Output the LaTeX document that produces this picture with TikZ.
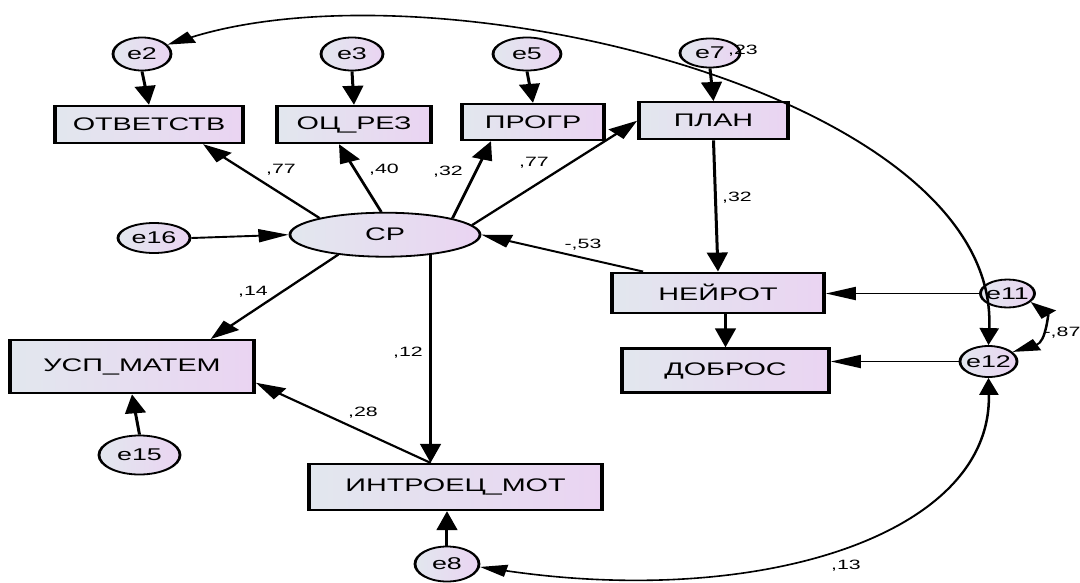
\documentclass[tikz,border=0pt]{standalone}
\usepackage{fontspec}
\setmainfont{Liberation Sans}
\usetikzlibrary{shapes.geometric,arrows.meta,calc}
\definecolor{lft}{RGB}{226,231,238}
\definecolor{rgt}{RGB}{234,212,242}
\newcommand\mynodefont{\fontsize{17}{20}\selectfont}
\newcommand\myboxfont{\fontsize{18.2}{21}\selectfont}
\newcommand\mylabfont{\fontsize{13.5}{16}\selectfont}
\tikzset{
  box/.style={rectangle, draw=black, line width=2.3pt, left color=lft, right color=rgt, inner sep=0pt, font=\myboxfont},
  err/.style={ellipse, draw=black, line width=1.8pt, left color=lft, right color=rgt, inner sep=0pt, font=\mynodefont},
  arr/.style={line width=1.9pt, -{Triangle[length=19pt,width=13pt]}},
  cov/.style={line width=1.6pt, {Triangle[length=17pt,width=12pt]}-{Triangle[length=17pt,width=12pt]}},
  lab/.style={font=\mylabfont, inner sep=0pt},
}
\begin{document}
\begin{tikzpicture}[x=1pt,y=-1pt]
\path[use as bounding box, fill=white] (0,0) rectangle (1080,582);
\begin{scope}[x=0.63291pt, transform canvas={xscale=1.58}]
% error terms
\node[err, minimum width=36.7pt, minimum height=33pt] (e2) at (142,54) {\makebox[0pt]{e2}};
\node[err, minimum width=39.2pt, minimum height=33pt] (e3) at (352,54) {\makebox[0pt]{e3}};
\node[err, minimum width=43pt, minimum height=33pt] (e5) at (527,54) {\makebox[0pt]{e5}};
\node[err, minimum width=38pt, minimum height=29pt] (e7) at (710,53) {\makebox[0pt]{e7}};
\node[err, minimum width=45.6pt, minimum height=30pt] (e16) at (154,238) {\makebox[0pt]{e16}};
\node[err, minimum width=34.2pt, minimum height=28pt] (e11) at (1007.5,293.5) {\makebox[0pt]{e11}};
\node[err, minimum width=36.1pt, minimum height=31pt] (e12) at (988.5,361.5) {\makebox[0pt]{e12}};
\node[err, minimum width=51.3pt, minimum height=39pt] (e15) at (139.5,455) {\makebox[0pt]{e15}};
\node[err, minimum width=40.5pt, minimum height=35pt] (e8) at (447,564) {\makebox[0pt]{e8}};
% latent
\node[err, minimum width=120.3pt, minimum height=44pt, font=\myboxfont] (cp) at (385,234.7) {СР};
% observed
\node[box, minimum width=119pt, minimum height=37pt] (otv) at (149,124.5) {ОТВЕТСТВ};
\node[box, minimum width=97.5pt, minimum height=37pt] (ozr) at (354,124.5) {ОЦ\_РЕЗ};
\node[box, minimum width=89.9pt, minimum height=36pt] (prog) at (533,122) {ПРОГР};
\node[box, minimum width=94.3pt, minimum height=37pt] (plan) at (713.5,120.7) {ПЛАН};
\node[box, minimum width=154.4pt, minimum height=53pt] (usp) at (132,366.7) {УСП\_МАТЕМ};
\node[box, minimum width=134.2pt, minimum height=40pt] (neu) at (718,292.7) {НЕЙРОТ};
\node[box, minimum width=131pt, minimum height=44pt] (dob) at (725.5,370.5) {ДОБРОС};
\node[box, minimum width=185.4pt, minimum height=46pt] (intr) at (455.5,487) {ИНТРОЕЦ\_МОТ};
% paths
\draw[arr] (e2.south) -- (otv.north);
\draw[arr] (e3.south) -- (ozr.north);
\draw[arr] (e5.south) -- (prog.north);
\draw[arr] (e7.south) -- (plan.north);
\draw[arr] (cp.158) -- ($(otv.south)+(54,0)$);
\draw[arr] (cp.96) -- ($(ozr.south)+(-15,0)$);
\draw[arr] (cp.21) -- ($(prog.south)+(-42,0)$);
\draw[arr] (cp.10) -- (plan.west);
\draw[arr] (e16.east) -- (cp.west);
\draw[arr] ($(neu.north)+(-75,0)$) -- (cp.east);
\draw[arr] (plan.south) -- (neu.north);
\draw[arr] (neu.south -| dob.north) -- (dob.north);
\draw[arr] (e11.west) -- (e11.west -| neu.east);
\draw[arr] (e12.west) -- (e12.west -| dob.east);
\draw[arr] (cp.-146) -- ($(usp.north)+(78.7,0)$);
\coordinate (jn) at (cp.-35 |- intr.north);
\draw[arr] (cp.-35) -- (jn);
\draw[arr] (jn) -- ($(usp.east)+(0,16)$);
\draw[arr] (e15.north) -- (usp.south);
\draw[arr] (e8.north) -- (e8.north |- intr.south);
% covariances
\draw[cov] (e2.30) .. controls (440,-40) and (1000,95) .. (e12.north);
\draw[cov] (e8.-8) .. controls (760,608) and (992,535) .. (e12.south);
\draw[cov] (e11.-30) .. controls (1048,314) and (1046,342) .. (e12.32);
% labels
\node[lab] (l77a) at (281,170) {,77};
\node[lab] (l40) at (384,170) {,40};
\node[lab] (l32a) at (448,172) {,32};
\node[lab] (l77b) at (534,163) {,77};
\node[lab] (l32b) at (737,198) {,32};
\node[lab] (l53) at (583,245) {-,53};
\node[lab] (l14) at (253,292) {,14};
\node[lab] (l12) at (408,353) {,12};
\node[lab] (l28) at (363,413) {,28};
\node[lab] (l23) at (743,51) {,23};
\node[lab] (l87) at (1062,333) {-,87};
\node[lab] (l13) at (846,566) {,13};
\end{scope}
\end{tikzpicture}
\end{document}
